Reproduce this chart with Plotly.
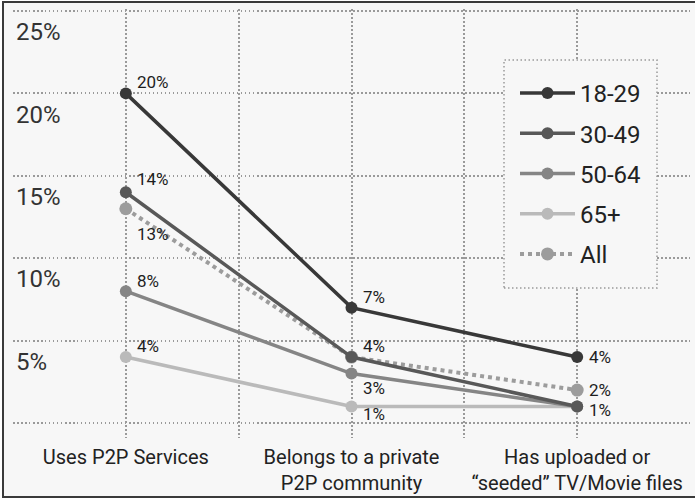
import plotly.graph_objects as go

# Survey categories (x axis)
categories = [
    "Uses P2P Services",
    "Belongs to a private<br>P2P community",
    "Has uploaded or<br>\u201cseeded\u201d TV/Movie files",
]

# Share of adults (%) for each age group
series_names = ["18-29", "30-49", "50-64", "65+", "All"]
values_18_29 = [20, 7, 4]
values_30_49 = [14, 4, 1]
values_50_64 = [8, 3, 1]
values_65_up = [4, 1, 1]
values_all = [13, 4, 2]

y_ticks = [0, 5, 10, 15, 20, 25]
y_tick_text = ["", "5%", "10%", "15%", "20%", "25%"]

colors = {
    "18-29": "#383838",
    "30-49": "#585858",
    "50-64": "#858585",
    "65+": "#bababa",
    "All": "#9c9c9c",
}

series_values = {
    "18-29": values_18_29,
    "30-49": values_30_49,
    "50-64": values_50_64,
    "65+": values_65_up,
    "All": values_all,
}

x_pos = list(range(len(categories)))

fig = go.Figure()

# Drawing order: lighter series underneath, darkest on top
draw_order = ["65+", "50-64", "All", "30-49", "18-29"]
for name in draw_order:
    is_all = name == "All"
    fig.add_trace(go.Scatter(
        x=x_pos,
        y=series_values[name],
        name=name,
        mode="lines+markers",
        line=dict(color=colors[name], width=4 if is_all else 3.5,
                  dash="4px,4px" if is_all else "solid"),
        marker=dict(color=colors[name], size=13 if is_all else 12, symbol="circle"),
        legendrank=series_names.index(name) + 1,
        legendgroup=name,
        hoverinfo="skip",
    ))

# Value labels: (series, category index, x shift, y shift)
label_specs = [
    ("18-29", 0, 9, 11), ("30-49", 0, 9, 13), ("All", 0, 9, -25),
    ("50-64", 0, 9, 10), ("65+", 0, 9, 11),
    ("18-29", 1, 9, 11), ("30-49", 1, 9, 11), ("50-64", 1, 9, -14),
    ("65+", 1, 9, -7),
    ("18-29", 2, 10, 0), ("All", 2, 10, 0), ("30-49", 2, 10, -3),
]
annotations = []
for name, idx, dx, dy in label_specs:
    v = series_values[name][idx]
    annotations.append(dict(
        x=x_pos[idx], y=v, xref="x", yref="y",
        text=f"{v}%", showarrow=False,
        xanchor="left", yanchor="middle",
        xshift=dx, yshift=dy,
        font=dict(family="Roboto", size=17, color="#1e1e1e"),
    ))

W, H = 695, 500
ml, mr, mt, mb = 13, 5, 9, 62
pw, ph = W - ml - mr, H - mt - mb


def px_x(px):
    return (px - ml) / pw


def px_y(py):
    return (H - mb - py) / ph


shapes = [
    # outer frame
    dict(type="rect", xref="paper", yref="paper",
         x0=px_x(3), x1=px_x(698), y0=px_y(497), y1=px_y(2),
         line=dict(color="#3a3a3a", width=2), fillcolor="#f7f7f7", layer="below"),
    # legend box
    dict(type="rect", xref="paper", yref="paper",
         x0=px_x(504), x1=px_x(657), y0=px_y(288), y1=px_y(60),
         line=dict(color="#9a9a9a", width=1.5, dash="1.5px,2.5px"),
         fillcolor="#f7f7f7", layer="above"),
]

fig.update_layout(
    width=W, height=H,
    margin=dict(l=ml, r=mr, t=mt, b=mb),
    paper_bgcolor="#ffffff",
    plot_bgcolor="#f7f7f7",
    font=dict(family="Roboto", color="#222222"),
    showlegend=True,
    legend=dict(
        x=px_x(515), y=px_y(71), xanchor="left", yanchor="top",
        bgcolor="rgba(0,0,0,0)", borderwidth=0,
        font=dict(family="Roboto", size=24, color="#222222"),
        itemwidth=55, tracegroupgap=6,
        traceorder="grouped",
    ),
    annotations=annotations,
    shapes=shapes,
    xaxis=dict(
        range=[-0.5, 2.5],
        tickvals=[0, 0.5, 1, 1.5, 2],
        ticktext=[categories[0], "", categories[1], "", categories[2]],
        showgrid=True, gridcolor="#9a9a9a", gridwidth=1.5, griddash="1.5px,2.5px",
        zeroline=False, showline=False, ticks="",
        ticklabelstandoff=5,
        tickfont=dict(family="Roboto", size=20, color="#222222"),
        fixedrange=True,
    ),
    yaxis=dict(
        range=[-0.91, 25.12],
        tickvals=y_ticks, ticktext=y_tick_text,
        showgrid=True, gridcolor="#9a9a9a", gridwidth=1.5, griddash="1.5px,2.5px",
        zeroline=False, showline=False, ticks="",
        ticklabelposition="inside bottom",
        ticklabelshift=4,
        tickfont=dict(family="Roboto", size=24, color="#333333"),
        fixedrange=True,
    ),
)

fig.write_html("out.html")
